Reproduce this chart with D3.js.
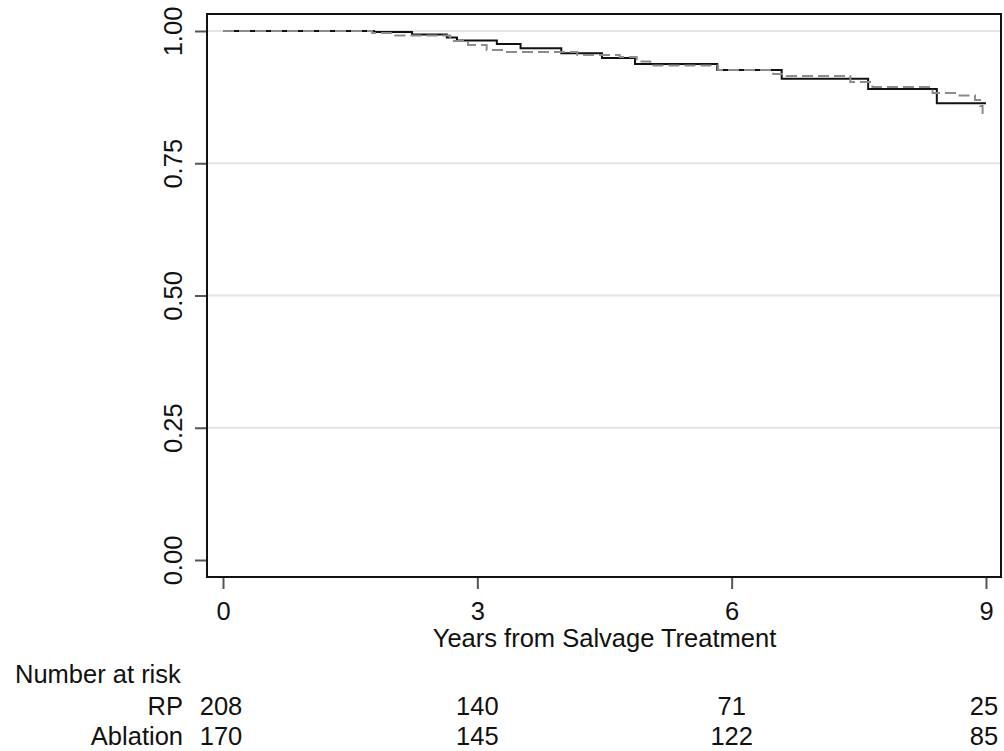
<!DOCTYPE html>
<html>
<head>
<meta charset="utf-8">
<script src="https://cdn.jsdelivr.net/npm/d3@7"></script>
<style>
  html, body { margin: 0; padding: 0; background: #fff; }
  svg { display: block; }
  text { font-family: "Liberation Sans", Arial, sans-serif; fill: #111; }
</style>
</head>
<body>
<svg id="chart" width="1004" height="751"></svg>
<script>
// ---- Data ----
const rpTimes  = [0, 1.78, 2.23, 2.64, 2.76, 3.23, 3.51, 3.99, 4.47, 4.86, 5.83, 6.59, 7.61, 8.42, 9.0];
const rpSurv   = [1, 0.998, 0.9934, 0.9877, 0.982, 0.9754, 0.9673, 0.9578, 0.949, 0.9376, 0.9263, 0.9098, 0.8904, 0.8633, 0.8633];
const ablTimes = [0, 1.76, 2.03, 2.68, 2.89, 3.11, 3.33, 4.18, 4.68, 4.88, 5.04, 5.84, 6.49, 6.65, 7.40, 7.66, 8.37, 8.66, 8.87, 8.93, 8.96, 8.97];
const ablSurv  = [1, 0.9962, 0.9915, 0.981, 0.9735, 0.9641, 0.9603, 0.9546, 0.9509, 0.9423, 0.9348, 0.9263, 0.9187, 0.915, 0.9036, 0.8941, 0.8828, 0.8781, 0.8696, 0.858, 0.845, 0.845];

const xTicks = [0, 3, 6, 9];
const yTicks = [0, 0.25, 0.5, 0.75, 1];
const gridTicks = [0.25, 0.5, 0.75, 1];

const riskTimes = [0, 3, 6, 9];
const riskGroups = ["RP", "Ablation"];
const riskRP = [208, 140, 71, 25];
const riskAbl = [170, 145, 122, 85];

const xTitle = "Years from Salvage Treatment";
const riskTitle = "Number at risk";

// ---- Layout ----
const svg = d3.select("#chart");
const frame = {left: 207, top: 14, right: 1001, bottom: 577};
const x = d3.scaleLinear().domain([0, 9]).range([223, 986]);
const y = d3.scaleLinear().domain([0, 1]).range([560, 31]);
const fs = 25.5;

// gridlines
svg.append("g").selectAll("line").data(gridTicks).join("line")
  .attr("x1", frame.left).attr("x2", frame.right)
  .attr("y1", d => y(d)).attr("y2", d => y(d))
  .attr("stroke", "#e4e4e4").attr("stroke-width", 2);

// curves
const line = d3.line().curve(d3.curveStepAfter).x(d => x(d[0])).y(d => y(d[1]));
const rpData = rpTimes.map((t, i) => [t, rpSurv[i]]);
const ablData = ablTimes.map((t, i) => [t, ablSurv[i]]);

svg.append("path").datum(rpData).attr("d", line)
  .attr("fill", "none").attr("stroke", "#111").attr("stroke-width", 2);
svg.append("path").datum(ablData).attr("d", line)
  .attr("fill", "none").attr("stroke", "#8c8c8c").attr("stroke-width", 2)
  .attr("stroke-dasharray", "11,5");

// frame
svg.append("rect")
  .attr("x", frame.left).attr("y", frame.top)
  .attr("width", frame.right - frame.left).attr("height", frame.bottom - frame.top)
  .attr("fill", "none").attr("stroke", "#111").attr("stroke-width", 2);

// y axis
const yAxis = d3.axisLeft(y).tickValues(yTicks).tickFormat(d3.format(".2f")).tickSize(11).tickPadding(0);
const gy = svg.append("g").attr("transform", `translate(${frame.left - 1},0)`).call(yAxis);
gy.select(".domain").remove();
gy.selectAll(".tick line").attr("stroke", "#555").attr("stroke-width", 2);
gy.selectAll(".tick text")
  .attr("x", null).attr("dy", null)
  .attr("text-anchor", "middle")
  .attr("transform", "translate(-24,0) rotate(-90)")
  .style("font-size", fs + "px").style("font-family", "Liberation Sans, Arial, sans-serif").attr("fill", "#111");

// x axis
const xAxis = d3.axisBottom(x).tickValues(xTicks).tickFormat(d3.format("d")).tickSize(11).tickPadding(0);
const gx = svg.append("g").attr("transform", `translate(0,${frame.bottom + 1})`).call(xAxis);
gx.select(".domain").remove();
gx.selectAll(".tick line").attr("stroke", "#555").attr("stroke-width", 2);
gx.selectAll(".tick text")
  .attr("y", 42).attr("dy", null)
  .style("font-size", fs + "px").style("font-family", "Liberation Sans, Arial, sans-serif").attr("fill", "#111");

// x title
svg.append("text").attr("x", (x(0) + x(9)) / 2).attr("y", 647)
  .attr("text-anchor", "middle").style("font-size", fs + "px").text(xTitle);

// risk table
svg.append("text").attr("x", 15).attr("y", 683).style("font-size", fs + "px").text(riskTitle);
const rows = [riskRP, riskAbl];
const rowY = [715, 745];
rows.forEach((vals, r) => {
  svg.append("text").attr("x", 183).attr("y", rowY[r]).attr("text-anchor", "end")
    .style("font-size", fs + "px").text(riskGroups[r]);
  svg.append("g").selectAll("text").data(vals).join("text")
    .attr("x", (d, i) => x(riskTimes[i]) + (i === 0 ? -2 : (i === 3 ? -2 : 0)))
    .attr("y", rowY[r]).attr("text-anchor", "middle")
    .style("font-size", fs + "px").text(d => d);
});
</script>
</body>
</html>
